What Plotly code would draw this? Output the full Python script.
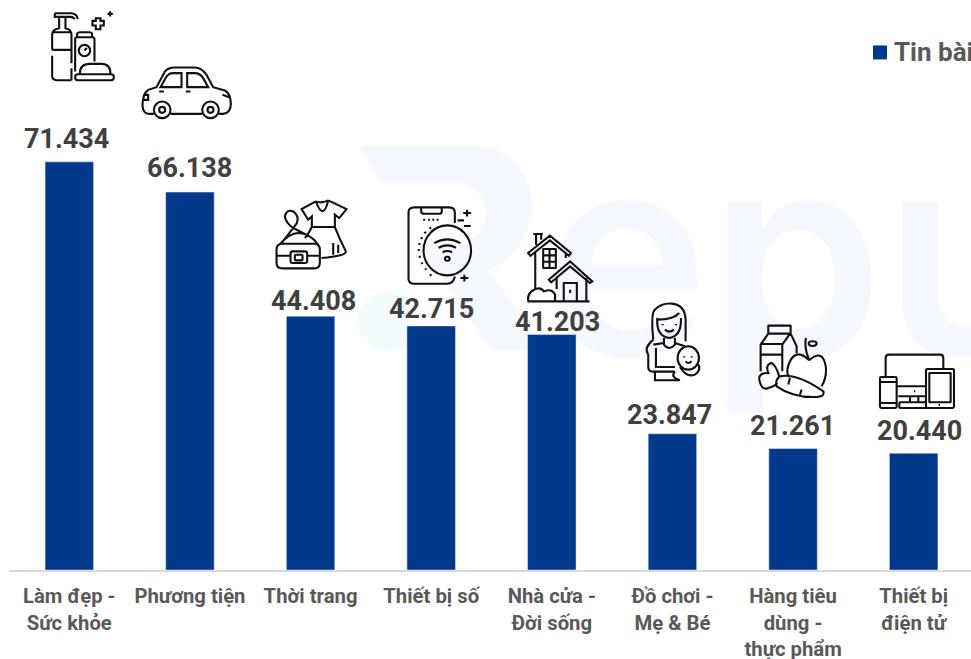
import plotly.graph_objects as go
import re

# ---------- data ----------
categories = ["Làm đẹp -<br>Sức khỏe", "Phương tiện", "Thời trang", "Thiết bị số",
              "Nhà cửa -<br>Đời sống", "Đồ chơi -<br>Mẹ & Bé",
              "Hàng tiêu<br>dùng -<br>thực phẩm", "Thiết bị<br>điện tử"]
series_name = "Tin bài"
values = [71434, 66138, 44408, 42715, 41203, 23847, 21261, 20440]
value_labels = ["71.434", "66.138", "44.408", "42.715", "41.203", "23.847", "21.261", "20.440"]

# ---------- layout / style ----------
W, H = 1060, 659
ML, MB = 9.2, 88.5
PLOT_RIGHT = 974
BASE_PX = 570.5
PX_PER_UNIT = 408.5 / 71434
BAR = "#03398A"
label_gap = [23, 24, 15, 17, 13, 19, 23, 22]       # px from bar top to label centre
label_dx = [-3, -0.5, 3, 0, 5.5, -2.5, -1, 5.5]    # px sideways from bar centre
STEP = (PLOT_RIGHT - ML) / 8
centres_px = [ML + STEP * (i + .5) for i in range(8)]
tops_px = [BASE_PX - v * PX_PER_UNIT for v in values]
PW = PLOT_RIGHT - ML


def px(x):
    return (x - ML) / PW


def py(y):
    return (BASE_PX - y) / BASE_PX


def ring(cx, cy, rx, ry=None):
    ry = rx if ry is None else ry
    k = .5523
    return (f"M{cx-rx},{cy} C{cx-rx},{cy-k*ry} {cx-k*rx},{cy-ry} {cx},{cy-ry} "
            f"C{cx+k*rx},{cy-ry} {cx+rx},{cy-k*ry} {cx+rx},{cy} "
            f"C{cx+rx},{cy+k*ry} {cx+k*rx},{cy+ry} {cx},{cy+ry} "
            f"C{cx-k*rx},{cy+ry} {cx-rx},{cy+k*ry} {cx-rx},{cy} Z ")


def rrect(x0, y0, x1, y1, r):
    return (f"M{x0+r},{y0} L{x1-r},{y0} Q{x1},{y0} {x1},{y0+r} L{x1},{y1-r} Q{x1},{y1} {x1-r},{y1} "
            f"L{x0+r},{y1} Q{x0},{y1} {x0},{y1-r} L{x0},{y0+r} Q{x0},{y0} {x0+r},{y0} Z ")


# Icon artwork: (x scale, y scale, origin x, origin y, drawing)
icon_bottle = (3, 3, 0, 0,
    "M165,40 L215,40 Q232,42 234,58 M165,40 L165,51 L212,51 Q222,52 224,58 "
    "M178,51 L178,85 Q157,88 157,105 L157,150 M157,168 L157,228 Q157,241 170,241 L215,241 "
    "M197,51 L197,85 Q215,88 215,105 L215,190 M215,205 L215,241 M157,97 L215,97 M157,150 L215,150 "
    "M232,112 L232,102 Q233,97 240,97 L270,97 Q276,97 277,102 L277,112 "
    "M226,215 L226,118 Q226,112 232,112 L277,112 Q284,112 284,118 L284,185 "
    + ring(254, 152, 17) + "M254,152 L261,144 "
    + rrect(226, 223, 342, 241, 8) +
    "M240,222 Q240,192 270,192 L305,192 Q332,192 332,222 "
    "M288,55 L302,55 L302,63 L312,63 L312,77 L302,77 L302,88 L288,88 L288,77 L278,77 L278,63 L288,63 Z "
    "M331,34 L331,50 M323,42 L339,42")
icon_car = (3, 3, 0, 0,
    "M445,342 Q430,340 428,318 Q428,282 445,270 L470,262 L495,215 Q505,203 525,203 L585,203 "
    "Q605,203 620,225 L640,262 L675,272 Q692,280 693,312 Q693,340 670,342 L657,342 M607,342 L512,342 M462,342 L445,342 "
    + ring(487, 330, 25) + ring(487, 330, 9) + ring(632, 330, 25) + ring(632, 330, 9) +
    "M482,262 L545,262 L545,220 L520,220 Q505,220 497,235 Z M562,262 L625,262 L610,235 Q600,220 585,220 L562,220 Z "
    "M478,275 L492,275 M558,275 L572,275 M430,285 L445,285 L445,300 L430,300 M668,285 L688,292")
icon_fashion = (3, 3, 0, 0,
    rrect(830, 732, 960, 806, 18) + rrect(872, 755, 922, 790, 6) + rrect(885, 765, 908, 782, 3) +
    "M830,768 L872,768 M922,768 L960,768 M838,735 Q870,700 895,700 Q930,700 955,735 "
    "M845,730 L890,672 Q900,650 880,635 Q860,628 855,650 Q858,670 880,685 L932,712 "
    "M948,605 L905,628 L925,660 L936,650 L936,682 M985,602 L1040,628 L1018,655 L1005,645 L1005,682 "
    "M936,682 L1005,682 M948,605 Q970,665 985,602 M948,605 Q965,612 985,602 "
    "M936,682 Q928,700 915,715 M1005,682 Q1020,720 1038,755 Q1040,768 965,775 "
    "M1015,735 L1015,760 M1000,730 L1000,765")
icon_phone = (2.525, 3, 350, 130,
    "M265,280 L265,248 Q265,233 250,233 L163,233 Q148,233 148,248 L148,447 Q148,462 163,462 L245,462 Q262,462 265,440 "
    "M180,235 L180,245 Q180,252 188,252 L225,252 Q232,252 232,245 L232,235 "
    "M185,270 L190,270 M197,270 L202,270 M208,270 L213,270 M219,270 L224,270 "
    + ring(246, 362, 60, 75) +
    "M213,340 Q246,318 279,340 M224,354 Q246,340 268,354 M234,368 Q246,360 258,368 "
    + ring(246, 387, 6) +
    "M205,293 L201,297 M192,306 L188,311 M182,322 L180,328 M176,340 L175,346 M174,358 L174,364 "
    "M176,378 L177,384 M181,398 L183,403 M190,416 L193,420 M202,434 L206,438 "
    "M296,240 L296,260 M286,250 L306,250 M289,435 L289,455 M279,445 L299,445 M272,272 L288,272 M288,289 L305,289")
icon_house = (2.525, 3, 350, 130,
    "M450,370 L505,318 L558,370 L553,378 L505,332 L456,378 Z M463,313 L487,313 M470,313 L470,345 M483,313 L483,330 "
    "M468,365 L468,478 M545,370 L545,385 "
    + rrect(488, 358, 520, 415, 1) +
    "M504,358 L504,415 M488,377 L520,377 M488,396 L520,396 "
    "M502,450 L556,395 L612,455 L606,460 L556,410 L508,458 Z M522,440 L522,478 M597,445 L597,512 "
    "M540,512 L540,460 L573,460 L573,512 M556,480 L556,490 M448,515 L605,515 "
    "M450,512 Q448,490 465,480 Q480,470 490,485 Q510,475 518,495 L518,512")
icon_mother = (3, 3, 620, 290,
    "M100,150 Q92,70 105,60 Q125,40 155,42 Q195,45 197,90 L197,155 "
    "M112,90 Q160,90 178,70 M112,85 Q108,140 148,145 Q185,140 183,85 "
    "M135,120 Q148,132 162,120 M128,103 L128,107 M168,103 L168,107 "
    "M132,145 L132,165 Q148,185 165,165 L165,145 M100,150 Q70,175 85,195 "
    "M100,165 L132,160 M165,160 L195,170 M108,175 L108,232 L165,232 "
    "M85,195 L85,232 Q85,246 100,246 L165,246 M105,246 L105,272 L180,272 "
    + ring(205, 205, 32, 35) +
    "M193,200 L193,204 M215,200 L215,204 M197,215 Q205,225 215,215 M180,232 Q200,265 225,255 Q245,240 235,225 "
    "M165,246 Q150,262 180,272")
icon_food = (3, 3, 620, 290,
    rrect(445, 108, 512, 132, 1) +
    "M445,132 L422,165 L422,245 M512,132 L530,170 L530,190 M422,163 L487,163 M510,132 L487,165 L487,245 "
    "M422,195 L487,195 "
    "M568,212 Q530,175 510,215 Q495,250 508,262 M568,212 Q610,175 618,235 Q620,265 605,290 "
    "M558,145 Q552,175 568,212 " + ring(578, 162, 12, 7) +
    "M480,260 Q530,250 610,305 Q615,322 590,322 Q520,325 470,290 Q465,270 480,260 "
    "M510,265 L505,285 M540,315 L545,300 "
    "M478,262 Q470,230 455,220 Q435,225 445,250 Q415,250 418,270 Q425,305 445,295 Q465,290 472,280")
icon_devices = (3, 3, 620, 290,
    "M797,262 L797,205 Q797,195 807,195 L960,195 Q970,195 970,205 L970,238 "
    "M830,290 L918,290 M882,305 L886,305 M870,320 L870,338 M895,320 L895,338 M835,320 L918,320 "
    + rrect(838, 338, 918, 355, 3) + rrect(780, 262, 830, 355, 4) +
    "M782,277 L830,277 M782,340 L830,340 "
    + rrect(918, 238, 1002, 355, 4) + rrect(928, 250, 992, 338, 1) + "M956,346 L960,346")
icons = [icon_bottle, icon_car, icon_fashion, icon_phone, icon_house, icon_mother, icon_food, icon_devices]

# Logo "R" of the watermark, in page pixels
logo_r = [("M", 359.3, 146), ("L", 473, 146), ("C", 510, 146, 532, 175, 532, 205), ("C", 532, 235, 512, 262, 488, 271),
          ("L", 546, 350), ("L", 491.7, 350), ("L", 420, 245), ("L", 453, 245),
          ("C", 472, 245, 486, 232, 486, 213), ("C", 486, 196, 472, 183, 453, 183), ("L", 381.7, 183)]


def logo_path():
    out = []
    for seg in logo_r:
        nums = seg[1:]
        pts = [f"{px(nums[j]):.5f},{py(nums[j+1]):.5f}" for j in range(0, len(nums), 2)]
        out.append(seg[0] + " ".join(pts))
    return " ".join(out) + " Z"


def place(icon, i):
    """Convert artwork to pixel offsets around the bar top of category i (y up)."""
    sx, sy, ox, oy, d = icon
    def pair(m):
        x, y = float(m.group(1)), float(m.group(2))
        return f"{x/sx+ox-centres_px[i]:.2f},{tops_px[i]-(y/sy+oy):.2f}"
    return re.sub(r"(-?[\d.]+),(-?[\d.]+)", pair, d)


fig = go.Figure(go.Bar(x=list(range(8)), y=values, marker_color=BAR, width=0.402,
                       name=series_name, showlegend=False, hoverinfo="skip"))

WM = "#F5F8FF"
shapes = [
    # faint brand watermark
    dict(type="circle", xref="paper", yref="paper", layer="below", line_width=0, fillcolor="#F3FDFE",
         x0=px(358), x1=px(418), y0=py(352), y1=py(292)),
    dict(type="path", xref="paper", yref="paper", layer="below", line_width=0, fillcolor=WM, path=logo_path()),
    dict(type="rect", xref="paper", yref="paper", layer="below", line_width=0, fillcolor="rgba(0,0,0,0)",
         x0=px(540), x1=px(1060), y0=py(445), y1=py(45),
         label=dict(text="epu", textposition="middle left", padding=0,
                    font=dict(family="Inter", size=280, color=WM, weight=600))),
    # legend swatch
    dict(type="rect", xref="paper", yref="paper", line_width=0, fillcolor=BAR,
         x0=px(873), x1=px(887), y0=py(59.5), y1=py(45.5)),
]
for i, ic in enumerate(icons):
    shapes.append(dict(type="path", xref="x", yref="y", xsizemode="pixel", ysizemode="pixel",
                       xanchor=i, yanchor=values[i], path=place(ic, i),
                       line=dict(color="#111111", width=2.1), fillcolor="rgba(0,0,0,0)"))

annotations = [dict(x=i, y=values[i], xref="x", yref="y", text=value_labels[i], showarrow=False,
                    yanchor="middle", yshift=label_gap[i], xshift=label_dx[i],
                    font=dict(family="Roboto", size=27, color="#404040", weight=700))
               for i in range(8)]
annotations.append(dict(x=px(892), y=py(52), xref="paper", yref="paper",
                        xanchor="left", yanchor="middle", text=series_name, showarrow=False,
                        font=dict(family="Roboto", size=26, color="#595959", weight=700)))

fig.update_layout(
    width=W, height=H, margin=dict(l=ML, r=W-PLOT_RIGHT, t=0, b=MB, pad=0),
    paper_bgcolor="white", plot_bgcolor="rgba(0,0,0,0)", showlegend=False,
    xaxis=dict(range=[-.5, 7.5], tickmode="array", tickvals=list(range(8)), ticktext=categories,
               tickfont=dict(family="Roboto", size=20.3, color="#595959", weight=700),
               showline=True, linecolor="#D9D9D9", linewidth=2, ticks="", showgrid=False,
               zeroline=False, tickangle=0, ticklabelstandoff=7, automargin=False),
    yaxis=dict(range=[0, BASE_PX / PX_PER_UNIT], visible=False, automargin=False),
    shapes=shapes, annotations=annotations,
)

fig.write_html("out.html", config={"displayModeBar": False},
               post_script="document.body.style.margin='0';document.documentElement.style.overflow='hidden';")
